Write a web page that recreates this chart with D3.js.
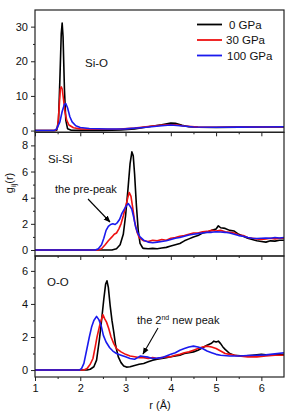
<!DOCTYPE html>
<html><head><meta charset="utf-8">
<script src="https://cdn.jsdelivr.net/npm/d3@7"></script>
<style>
body{margin:0;background:#fff;}
svg{display:block;font-family:"Liberation Sans",Arial,sans-serif;}
</style></head><body>
<svg id="c" width="288" height="416"></svg>
<script>
// ---------------- data ----------------
const seriesNames = ["0 GPa", "30 GPa", "100 GPa"];
const seriesColors = ["#000000", "#ee1111", "#1a1aee"];
const panelNames = ["Si-O", "Si-Si", "O-O"];
const xTicks = [1, 2, 3, 4, 5, 6];

const siO_0 = [[1,0],[1.4,0],[1.48,0.1],[1.52,3],[1.55,15],[1.58,28],[1.6,31],[1.62,27],[1.65,12],[1.68,3],[1.72,0.5],[1.8,0.1],[2.0,0.05],[2.5,0.05],[2.9,0.15],[3.2,0.5],[3.5,1.1],[3.8,1.7],[4.0,2.2],[4.1,2.1],[4.25,1.5],[4.4,1.1],[4.6,0.95],[5.0,0.9],[5.5,1.0],[6.0,1.05],[6.5,1.05]];
const siO_30 = [[1,0],[1.45,0],[1.5,1],[1.53,6],[1.56,12],[1.58,12.6],[1.6,12],[1.63,9],[1.66,5.5],[1.7,3],[1.75,1.6],[1.85,0.8],[2.0,0.5],[2.3,0.4],[2.8,0.4],[3.2,0.7],[3.6,1.3],[3.9,1.7],[4.1,1.7],[4.3,1.3],[4.6,1.0],[5.0,0.95],[5.5,1.0],[6.0,1.05],[6.5,1.1]];
const siO_100 = [[1,0],[1.42,0],[1.48,0.5],[1.55,2.5],[1.6,5.5],[1.65,7.6],[1.68,7.8],[1.72,6.5],[1.77,4],[1.82,2.5],[1.9,1.4],[2.0,0.9],[2.2,0.6],[2.6,0.45],[3.0,0.5],[3.4,0.9],[3.8,1.4],[4.0,1.6],[4.2,1.4],[4.5,1.05],[5.0,0.95],[5.5,1.0],[6.0,1.05],[6.5,1.1]];

const siSi_0 = [[1,0],[2.7,0],[2.8,0.1],[2.88,0.4],[2.95,1.2],[3.0,2.6],[3.05,4.5],[3.1,6.6],[3.14,7.5],[3.17,7.2],[3.2,5.8],[3.24,3.4],[3.28,1.5],[3.32,0.5],[3.38,0.15],[3.4,0.12],[3.5,0.1],[3.6,0.12],[3.7,0.1],[3.8,0.15],[3.9,0.2],[4.0,0.3],[4.1,0.4],[4.2,0.5],[4.3,0.7],[4.4,0.85],[4.5,1.0],[4.6,1.1],[4.7,1.3],[4.8,1.35],[4.9,1.5],[5.0,1.6],[5.05,1.85],[5.1,1.7],[5.2,1.65],[5.3,1.5],[5.4,1.45],[5.5,1.2],[5.6,1.05],[5.7,0.9],[5.8,0.8],[5.9,0.7],[6.0,0.65],[6.1,0.6],[6.2,0.7],[6.3,0.68],[6.4,0.75],[6.5,0.75]];
const siSi_30 = [[1,0],[2.4,0],[2.47,0.1],[2.55,0.4],[2.62,0.7],[2.7,1.0],[2.75,1.2],[2.8,1.3],[2.85,1.6],[2.9,2.0],[2.95,2.6],[3.0,3.3],[3.05,4.0],[3.08,4.4],[3.12,4.1],[3.16,3.2],[3.2,2.2],[3.25,1.4],[3.3,0.95],[3.4,0.7],[3.5,0.65],[3.6,0.75],[3.7,0.7],[3.8,0.8],[3.9,0.75],[4.0,0.9],[4.1,0.95],[4.2,1.05],[4.3,1.1],[4.4,1.2],[4.5,1.3],[4.6,1.3],[4.7,1.4],[4.8,1.42],[4.9,1.5],[5.0,1.45],[5.1,1.5],[5.2,1.4],[5.3,1.35],[5.4,1.3],[5.5,1.15],[5.6,1.1],[5.7,0.95],[5.8,0.9],[5.9,0.85],[6.0,0.8],[6.1,0.85],[6.2,0.9],[6.3,0.85],[6.4,0.9],[6.5,0.9]];
const siSi_100 = [[1,0],[2.33,0],[2.4,0.1],[2.47,0.4],[2.52,0.9],[2.57,1.5],[2.62,1.8],[2.67,1.95],[2.72,2.0],[2.77,1.95],[2.82,2.1],[2.87,2.35],[2.92,2.8],[2.97,3.1],[3.02,3.4],[3.06,3.55],[3.1,3.35],[3.14,3.1],[3.18,2.5],[3.22,1.8],[3.27,1.3],[3.32,1.0],[3.4,0.75],[3.5,0.6],[3.6,0.55],[3.7,0.6],[3.8,0.65],[3.9,0.7],[4.0,0.8],[4.1,0.9],[4.2,0.95],[4.3,1.05],[4.4,1.15],[4.5,1.2],[4.6,1.25],[4.7,1.3],[4.8,1.35],[4.9,1.35],[5.0,1.4],[5.1,1.38],[5.2,1.35],[5.3,1.3],[5.4,1.2],[5.5,1.1],[5.6,1.05],[5.7,0.95],[5.8,0.9],[5.9,0.88],[6.0,0.9],[6.1,0.92],[6.2,0.9],[6.3,0.95],[6.4,0.92],[6.5,0.95]];

const oO_0 = [[1,0],[2.15,0],[2.22,0.05],[2.3,0.2],[2.36,0.6],[2.42,1.8],[2.47,3.0],[2.52,4.3],[2.56,5.2],[2.59,5.4],[2.62,5.0],[2.66,3.9],[2.7,3.0],[2.74,2.3],[2.78,1.5],[2.84,0.8],[2.9,0.45],[2.96,0.25],[3.02,0.18],[3.1,0.2],[3.2,0.28],[3.3,0.35],[3.4,0.4],[3.5,0.5],[3.6,0.6],[3.7,0.65],[3.8,0.7],[3.9,0.75],[4.0,0.8],[4.1,0.85],[4.2,0.9],[4.3,1.0],[4.4,1.05],[4.5,1.1],[4.6,1.2],[4.7,1.35],[4.8,1.5],[4.9,1.62],[4.95,1.75],[5.0,1.7],[5.05,1.75],[5.1,1.6],[5.15,1.4],[5.2,1.25],[5.3,1.0],[5.4,0.9],[5.6,0.85],[5.8,0.9],[6.0,0.95],[6.2,0.9],[6.5,0.95]];
const oO_30 = [[1,0],[2.08,0],[2.15,0.1],[2.22,0.35],[2.28,0.7],[2.33,1.4],[2.37,2.0],[2.42,2.6],[2.46,3.0],[2.5,3.35],[2.54,3.1],[2.58,2.9],[2.63,2.5],[2.68,2.0],[2.74,1.6],[2.8,1.3],[2.9,1.1],[3.0,0.95],[3.1,0.85],[3.2,0.8],[3.3,0.75],[3.4,0.75],[3.5,0.7],[3.6,0.75],[3.7,0.7],[3.8,0.75],[3.9,0.8],[4.0,0.8],[4.1,0.9],[4.2,0.95],[4.3,1.05],[4.4,1.1],[4.5,1.2],[4.6,1.3],[4.7,1.4],[4.8,1.45],[4.9,1.4],[5.0,1.3],[5.1,1.15],[5.2,1.0],[5.3,0.95],[5.5,0.85],[5.7,0.8],[5.9,0.8],[6.1,0.85],[6.3,0.9],[6.5,0.9]];
const oO_100 = [[1,0],[1.98,0],[2.03,0.1],[2.08,0.4],[2.14,1.2],[2.2,2.0],[2.25,2.6],[2.3,3.0],[2.36,3.25],[2.41,3.05],[2.46,2.7],[2.51,2.1],[2.57,1.7],[2.65,1.35],[2.72,1.15],[2.8,1.0],[2.9,0.9],[3.0,0.8],[3.1,0.7],[3.2,0.65],[3.27,0.75],[3.33,0.85],[3.4,0.82],[3.5,0.78],[3.6,0.7],[3.7,0.72],[3.8,0.75],[3.9,0.85],[4.0,0.95],[4.1,1.05],[4.2,1.2],[4.3,1.3],[4.4,1.4],[4.5,1.45],[4.6,1.4],[4.7,1.3],[4.8,1.15],[4.9,1.05],[5.0,0.95],[5.1,0.9],[5.3,0.85],[5.5,0.85],[5.7,0.88],[5.9,0.9],[6.1,0.92],[6.3,0.98],[6.5,1.05]];

const siOTicks = [0, 10, 20, 30];
const siSiTicks = [0, 2, 4, 6, 8];
const oOTicks = [0, 2, 4, 6];

// ---------------- layout ----------------
const svg = d3.select("#c");
const L = 35, R = 284;
const x = d3.scaleLinear().domain([1, 6.5]).range([L, R]);

const panels = [
  {name: panelNames[0], series: [siO_0, siO_30, siO_100], ticks: siOTicks, minor: [5,15,25], dom: [-0.5, 34.8], top: 10, bot: 132.3, lab: [85, 67]},
  {name: panelNames[1], series: [siSi_0, siSi_30, siSi_100], ticks: siSiTicks, minor: [1,3,5,7], dom: [-0.46, 9.0], top: 132.3, bot: 256, lab: [48, 163]},
  {name: panelNames[2], series: [oO_0, oO_30, oO_100], ticks: oOTicks, minor: [1,3,5], dom: [-0.42, 6.9], top: 256, bot: 377, lab: [47, 286]}
];

svg.append("defs").append("marker")
  .attr("id", "ah").attr("viewBox", "0 0 10 10").attr("refX", 9).attr("refY", 5)
  .attr("markerWidth", 7).attr("markerHeight", 7).attr("orient", "auto-start-reverse")
  .attr("markerUnits", "userSpaceOnUse")
  .append("path").attr("d", "M0,1 L10,5 L0,9 z").attr("fill", "#000");

panels.forEach((p, i) => {
  const y = d3.scaleLinear().domain(p.dom).range([p.bot, p.top]);
  const g = svg.append("g");
  const cid = "clip" + i;
  g.append("clipPath").attr("id", cid).append("rect")
    .attr("x", L).attr("y", p.top).attr("width", R - L).attr("height", p.bot - p.top);

  const line = d3.line().x(d => x(d[0])).y(d => y(d[1]));
  const lg = g.append("g").attr("clip-path", `url(#${cid})`);
  p.series.forEach((s, k) => {
    lg.append("path").datum(s).attr("d", line)
      .attr("fill", "none").attr("stroke", seriesColors[k])
      .attr("stroke-width", 1.6).attr("stroke-linejoin", "round");
  });

  // y axis
  const ya = d3.axisLeft(y).tickValues(p.ticks).tickSize(4).tickPadding(3).tickFormat(d3.format("d"));
  const yg = g.append("g").attr("transform", `translate(${L},0)`).call(ya);
  yg.select(".domain").remove();
  yg.selectAll("text").attr("font-size", 11).attr("fill", "#111").attr("font-family", "Liberation Sans, Arial, sans-serif");
  yg.selectAll("line").attr("stroke", "#222");
  const ym = d3.axisLeft(y).tickValues(p.minor).tickSize(2).tickFormat("");
  const ymg = g.append("g").attr("transform", `translate(${L},0)`).call(ym);
  ymg.select(".domain").remove();
  ymg.selectAll("line").attr("stroke", "#222");

  // x axis ticks (outward/down)
  const xa = d3.axisBottom(x).tickValues(xTicks).tickSize(4).tickPadding(3)
    .tickFormat(i === 2 ? d3.format("d") : "");
  const xg = g.append("g").attr("transform", `translate(0,${p.bot})`).call(xa);
  xg.select(".domain").remove();
  xg.selectAll("line").attr("stroke", "#222");
  xg.selectAll("text").attr("font-size", 11).attr("fill", "#111").attr("font-family", "Liberation Sans, Arial, sans-serif");
  const xm = d3.axisBottom(x).tickValues([1.5,2.5,3.5,4.5,5.5]).tickSize(2).tickFormat("");
  const xmg = g.append("g").attr("transform", `translate(0,${p.bot})`).call(xm);
  xmg.select(".domain").remove();
  xmg.selectAll("line").attr("stroke", "#222");

  // frame
  g.append("rect").attr("x", L).attr("y", p.top).attr("width", R - L).attr("height", p.bot - p.top)
    .attr("fill", "none").attr("stroke", "#222").attr("stroke-width", 1.2);

  g.append("text").attr("x", p.lab[0]).attr("y", p.lab[1]).text(p.name)
    .attr("font-size", 11.5).attr("fill", "#111");
});

// legend
const legY = [24.5, 40, 55.5];
const legX = [229, 226, 227];
seriesNames.forEach((n, k) => {
  svg.append("line").attr("x1", 197).attr("x2", 222).attr("y1", legY[k]).attr("y2", legY[k])
    .attr("stroke", seriesColors[k]).attr("stroke-width", 1.8);
  svg.append("text").attr("x", legX[k]).attr("y", legY[k] + 4).text(n)
    .attr("font-size", 11.5).attr("fill", "#111");
});

// annotations
svg.append("text").attr("x", 55).attr("y", 193).text("the pre-peak").attr("font-size", 11).attr("fill", "#111");
svg.append("line").attr("x1", 88).attr("y1", 199).attr("x2", 110).attr("y2", 222)
  .attr("stroke", "#000").attr("stroke-width", 1.1).attr("marker-end", "url(#ah)");

const t2 = svg.append("text").attr("x", 137).attr("y", 324).attr("font-size", 11).attr("fill", "#111");
t2.append("tspan").text("the 2");
t2.append("tspan").text("nd").attr("font-size", 7).attr("dy", -4);
t2.append("tspan").text(" new peak").attr("dy", 4);
svg.append("line").attr("x1", 158).attr("y1", 328).attr("x2", 143).attr("y2", 354)
  .attr("stroke", "#000").attr("stroke-width", 1.1).attr("marker-end", "url(#ah)");

// axis titles
svg.append("text").attr("transform", "translate(13,183) rotate(-90)")
  .attr("text-anchor", "middle").attr("font-size", 11).attr("fill", "#111")
  .call(t => {
    t.append("tspan").text("g");
    t.append("tspan").text("ij").attr("font-size", 7.5).attr("dy", 3);
    t.append("tspan").text("(r)").attr("dy", -3);
  });
svg.append("text").attr("x", 160).attr("y", 409).attr("text-anchor", "middle")
  .attr("font-size", 11).attr("fill", "#111").text("r (Å)");
</script>
</body></html>
